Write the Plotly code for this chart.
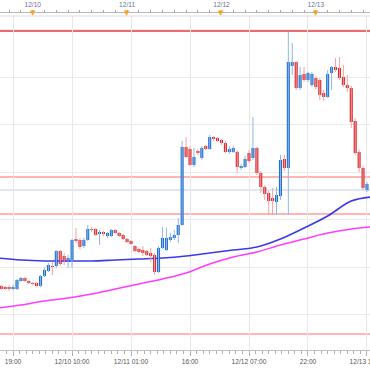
import pandas as pd
import plotly.graph_objects as go

# ---------------- data ----------------
start_time = "2012-12-09 16:00"
opens = [81.44, 81.43, 81.43, 81.41, 81.41, 81.49, 81.52, 81.49, 81.47, 81.47, 81.44, 81.54, 81.59, 81.64,
         81.64, 81.79, 81.74, 81.68, 81.70, 81.91, 81.90, 81.84, 81.90, 82.01, 82.01, 81.96, 81.98, 81.94, 81.94, 82.00, 81.97, 81.95, 81.91, 81.89,
         81.84, 81.81, 81.80, 81.79, 81.77, 81.75, 81.58, 81.82, 81.80, 81.90, 81.92, 81.95, 82.05, 82.83, 82.81, 82.65, 82.79, 82.72, 82.84, 82.81,
         82.93, 82.92, 82.90, 82.87, 82.78, 82.78, 82.78, 82.62, 82.63, 82.77, 82.72, 82.82, 82.57, 82.43, 82.37, 82.32, 82.28, 82.34, 82.71, 82.62,
         83.64, 83.68, 83.42, 83.56, 83.50, 83.45, 83.52, 83.50, 83.37, 83.33, 83.57, 83.63, 83.62, 83.53, 83.45, 83.42, 83.09, 82.78, 82.62, 82.40]
highs = [81.45, 81.44, 81.45, 81.45, 81.51, 81.53, 81.53, 81.50, 81.48, 81.48, 81.55, 81.62, 81.67, 81.68,
         81.80, 81.80, 81.77, 81.75, 81.91, 82.02, 81.92, 81.92, 82.05, 82.03, 82.02, 82.00, 81.99, 81.98, 82.01, 82.01, 81.98, 81.96, 81.92, 81.90,
         81.85, 81.82, 81.84, 81.80, 81.82, 81.77, 81.84, 82.03, 82.02, 81.97, 82.00, 82.12, 82.89, 82.93, 82.84, 82.82, 82.81, 82.84, 82.85, 82.95,
         82.94, 82.93, 82.91, 82.89, 82.84, 82.84, 82.80, 82.66, 82.74, 82.80, 83.13, 82.83, 82.59, 82.45, 82.39, 82.42, 82.43, 82.75, 82.75, 83.98,
         83.87, 83.69, 83.63, 83.63, 83.58, 83.58, 83.54, 83.52, 83.40, 83.60, 83.64, 83.72, 83.73, 83.65, 83.55, 83.44, 83.12, 82.80, 82.64, 82.48]
lows = [81.40, 81.40, 81.39, 81.40, 81.40, 81.48, 81.48, 81.46, 81.45, 81.43, 81.43, 81.53, 81.58, 81.55,
        81.62, 81.64, 81.65, 81.62, 81.62, 81.87, 81.81, 81.82, 81.89, 81.98, 81.94, 81.85, 81.94, 81.92, 81.93, 81.96, 81.93, 81.90, 81.87, 81.85,
        81.78, 81.77, 81.74, 81.74, 81.68, 81.55, 81.57, 81.81, 81.79, 81.88, 81.90, 81.87, 82.04, 82.72, 82.64, 82.63, 82.75, 82.70, 82.80, 82.80,
        82.89, 82.88, 82.85, 82.77, 82.76, 82.77, 82.57, 82.60, 82.62, 82.67, 82.70, 82.55, 82.37, 82.30, 82.16, 82.15, 82.15, 82.30, 82.59, 82.15,
        83.55, 83.40, 83.40, 83.48, 83.48, 83.43, 83.41, 83.30, 83.29, 83.32, 83.40, 83.58, 83.50, 83.43, 83.38, 83.02, 82.75, 82.58, 82.40, 82.38]
closes = [81.41, 81.41, 81.41, 81.43, 81.50, 81.52, 81.49, 81.47, 81.46, 81.44, 81.54, 81.60, 81.65, 81.63,
          81.79, 81.66, 81.68, 81.72, 81.90, 81.89, 81.83, 81.90, 82.01, 82.00, 81.95, 81.98, 81.96, 81.97, 82.00, 81.97, 81.94, 81.91, 81.88, 81.86,
          81.79, 81.78, 81.77, 81.75, 81.74, 81.58, 81.82, 81.92, 81.92, 81.93, 81.95, 82.05, 82.83, 82.73, 82.65, 82.73, 82.77, 82.82, 82.81, 82.93,
          82.91, 82.89, 82.87, 82.78, 82.81, 82.82, 82.63, 82.64, 82.71, 82.69, 82.82, 82.57, 82.43, 82.36, 82.29, 82.29, 82.35, 82.70, 82.62, 83.68,
          83.68, 83.42, 83.55, 83.50, 83.57, 83.56, 83.43, 83.35, 83.33, 83.56, 83.63, 83.60, 83.52, 83.45, 83.42, 83.08, 82.77, 82.62, 82.42, 82.46]

ma_times = ["2012-12-09 15:00", "2012-12-09 21:00", "2012-12-10 03:00", "2012-12-10 09:00",
            "2012-12-10 15:00", "2012-12-10 21:00", "2012-12-11 03:00", "2012-12-11 09:00",
            "2012-12-11 15:00", "2012-12-11 21:00", "2012-12-12 03:00", "2012-12-12 09:00",
            "2012-12-12 15:00", "2012-12-12 21:00", "2012-12-13 03:00", "2012-12-13 09:00",
            "2012-12-13 14:00"]
ma_short = [81.72, 81.70, 81.69, 81.69, 81.69, 81.70, 81.71, 81.72, 81.74, 81.77,
            81.80, 81.83, 81.91, 82.02, 82.14, 82.29, 82.33]
ma_long = [81.22, 81.25, 81.29, 81.32, 81.36, 81.41, 81.46, 81.51, 81.57, 81.66,
           81.73, 81.78, 81.85, 81.91, 81.97, 82.01, 82.03]

red_levels = [83.99, 82.53, 82.16, 80.96]
price_line = 82.40

bottom_tick_times = ["2012-12-09 19:00", "2012-12-10 10:00", "2012-12-11 01:00", "2012-12-11 16:00",
                     "2012-12-12 07:00", "2012-12-12 22:00", "2012-12-13 13:00"]
bottom_tick_labels = ["19:00", "12/10 10:00", "12/11 01:00", "16:00", "12/12 07:00", "22:00", "12/13 13:00"]
day_times = ["2012-12-10", "2012-12-11", "2012-12-12", "2012-12-13"]
day_labels = ["12/10", "12/11", "12/12", "12/13"]

# ---------------- figure ----------------
times = pd.date_range(start_time, periods=len(opens), freq="h")
UP, DOWN = "#1f6fd2", "#d9252a"
UP_W, DOWN_W = "#8fb6e8", "#f2a3a3"

fig = go.Figure()

fig.add_trace(go.Scatter(x=ma_times, y=ma_long, mode="lines", line=dict(color="#ff3cff", width=1.5, shape="spline"),
                         hoverinfo="skip"))
fig.add_trace(go.Scatter(x=ma_times, y=ma_short, mode="lines", line=dict(color="#3a3ae8", width=1.6, shape="spline"),
                         hoverinfo="skip"))

for up, col in ((True, UP_W), (False, DOWN_W)):
    wx, wy = [], []
    for t, o, h, l, c in zip(times, opens, highs, lows, closes):
        if (c >= o) == up:
            wx += [t, t, None]
            wy += [l, h, None]
    fig.add_trace(go.Scatter(x=wx, y=wy, mode="lines", line=dict(color=col, width=1), hoverinfo="skip"))

body_base = [min(o, c) for o, c in zip(opens, closes)]
body_len = [max(abs(c - o), 0.01) for o, c in zip(opens, closes)]
body_col = [UP if c >= o else DOWN for o, c in zip(opens, closes)]
fig.add_trace(go.Bar(x=times, y=body_len, base=body_base, marker=dict(color=body_col, line=dict(width=0)),
                     width=2.8e6, hoverinfo="skip"))

# invisible trace for top axis
fig.add_trace(go.Scatter(x=[times[0]], y=[opens[0]], xaxis="x2", mode="markers",
                         marker=dict(opacity=0), hoverinfo="skip"))

shapes = []
for i, lv in enumerate(red_levels):
    shapes.append(dict(type="line", xref="paper", yref="y", x0=0, x1=1, y0=lv, y1=lv,
                       line=dict(color="#e83a3a" if i == 0 else "#ff9c9c", width=1.6), layer="below"))
shapes.append(dict(type="line", xref="paper", yref="y", x0=0, x1=1, y0=price_line, y1=price_line,
                   line=dict(color="#c4cae4", width=1.2), layer="below"))

TOP = 12  # pixel row of the top ruler line
PAPER_H = 350 - TOP
shapes.append(dict(type="line", xref="paper", yref="paper", x0=0, x1=1,
                   y0=334 / PAPER_H, y1=334 / PAPER_H, line=dict(color="#dcdcdc", width=1)))

annotations = [dict(x=d, y=(350 - 13.5) / PAPER_H, xref="x", yref="paper", text="▼", showarrow=False,
                    font=dict(size=7, color="#f5a21c", family="DejaVu Sans"), yanchor="middle")
               for d in day_times]

x_range = ["2012-12-09 15:41", "2012-12-13 13:46"]
top_ticks = pd.date_range("2012-12-09 18:00", "2012-12-13 12:00", freq="3h")

fig.update_layout(
    width=370, height=370,
    margin=dict(l=0, r=0, t=TOP, b=20, autoexpand=False),
    paper_bgcolor="white", plot_bgcolor="white",
    showlegend=False, barmode="overlay",
    shapes=shapes, annotations=annotations,
    font=dict(family="Liberation Sans, Arial", size=7, color="#555"),
    xaxis=dict(type="date", range=x_range, tickmode="array", tickvals=bottom_tick_times,
               ticktext=bottom_tick_labels, showgrid=True, gridcolor="#e8e8e8", gridwidth=1,
               ticks="outside", ticklen=5, tickcolor="#b0b0b0", showline=True, linecolor="#c0c0c0",
               tickfont=dict(size=6.6, color="#555"), zeroline=False, rangeslider=dict(visible=False),
               ticklabeloverflow="allow", automargin=False,
               minor=dict(ticks="outside", ticklen=2.5, tickcolor="#b0b0b0", dtick=6000000,
                          tick0="2012-12-09 19:00", showgrid=False),
               fixedrange=True),
    xaxis2=dict(type="date", overlaying="x", matches="x", side="top", anchor="free", position=1,
                tickmode="array", tickvals=list(top_ticks), automargin=False,
                ticktext=[(t.strftime("%m/%d") if t.hour == 0 else "") for t in top_ticks],
                ticks="outside", ticklen=2, tickcolor="#a0a0a0", showline=True, linecolor="#b8b8b8",
                showgrid=False, zeroline=False, tickfont=dict(size=6.6, color="#6a7396")),
    yaxis=dict(range=[80.80, 84.14], domain=[0, 334 / PAPER_H], showticklabels=False, ticks="",
               tick0=81.155, dtick=0.475, showgrid=True, gridcolor="#ececec", zeroline=False,
               showline=False, fixedrange=True, automargin=False),
)

fig.write_html("out.html", config={"displayModeBar": False, "staticPlot": True},
               post_script="document.body.style.margin='0';document.body.style.overflow='hidden';")
